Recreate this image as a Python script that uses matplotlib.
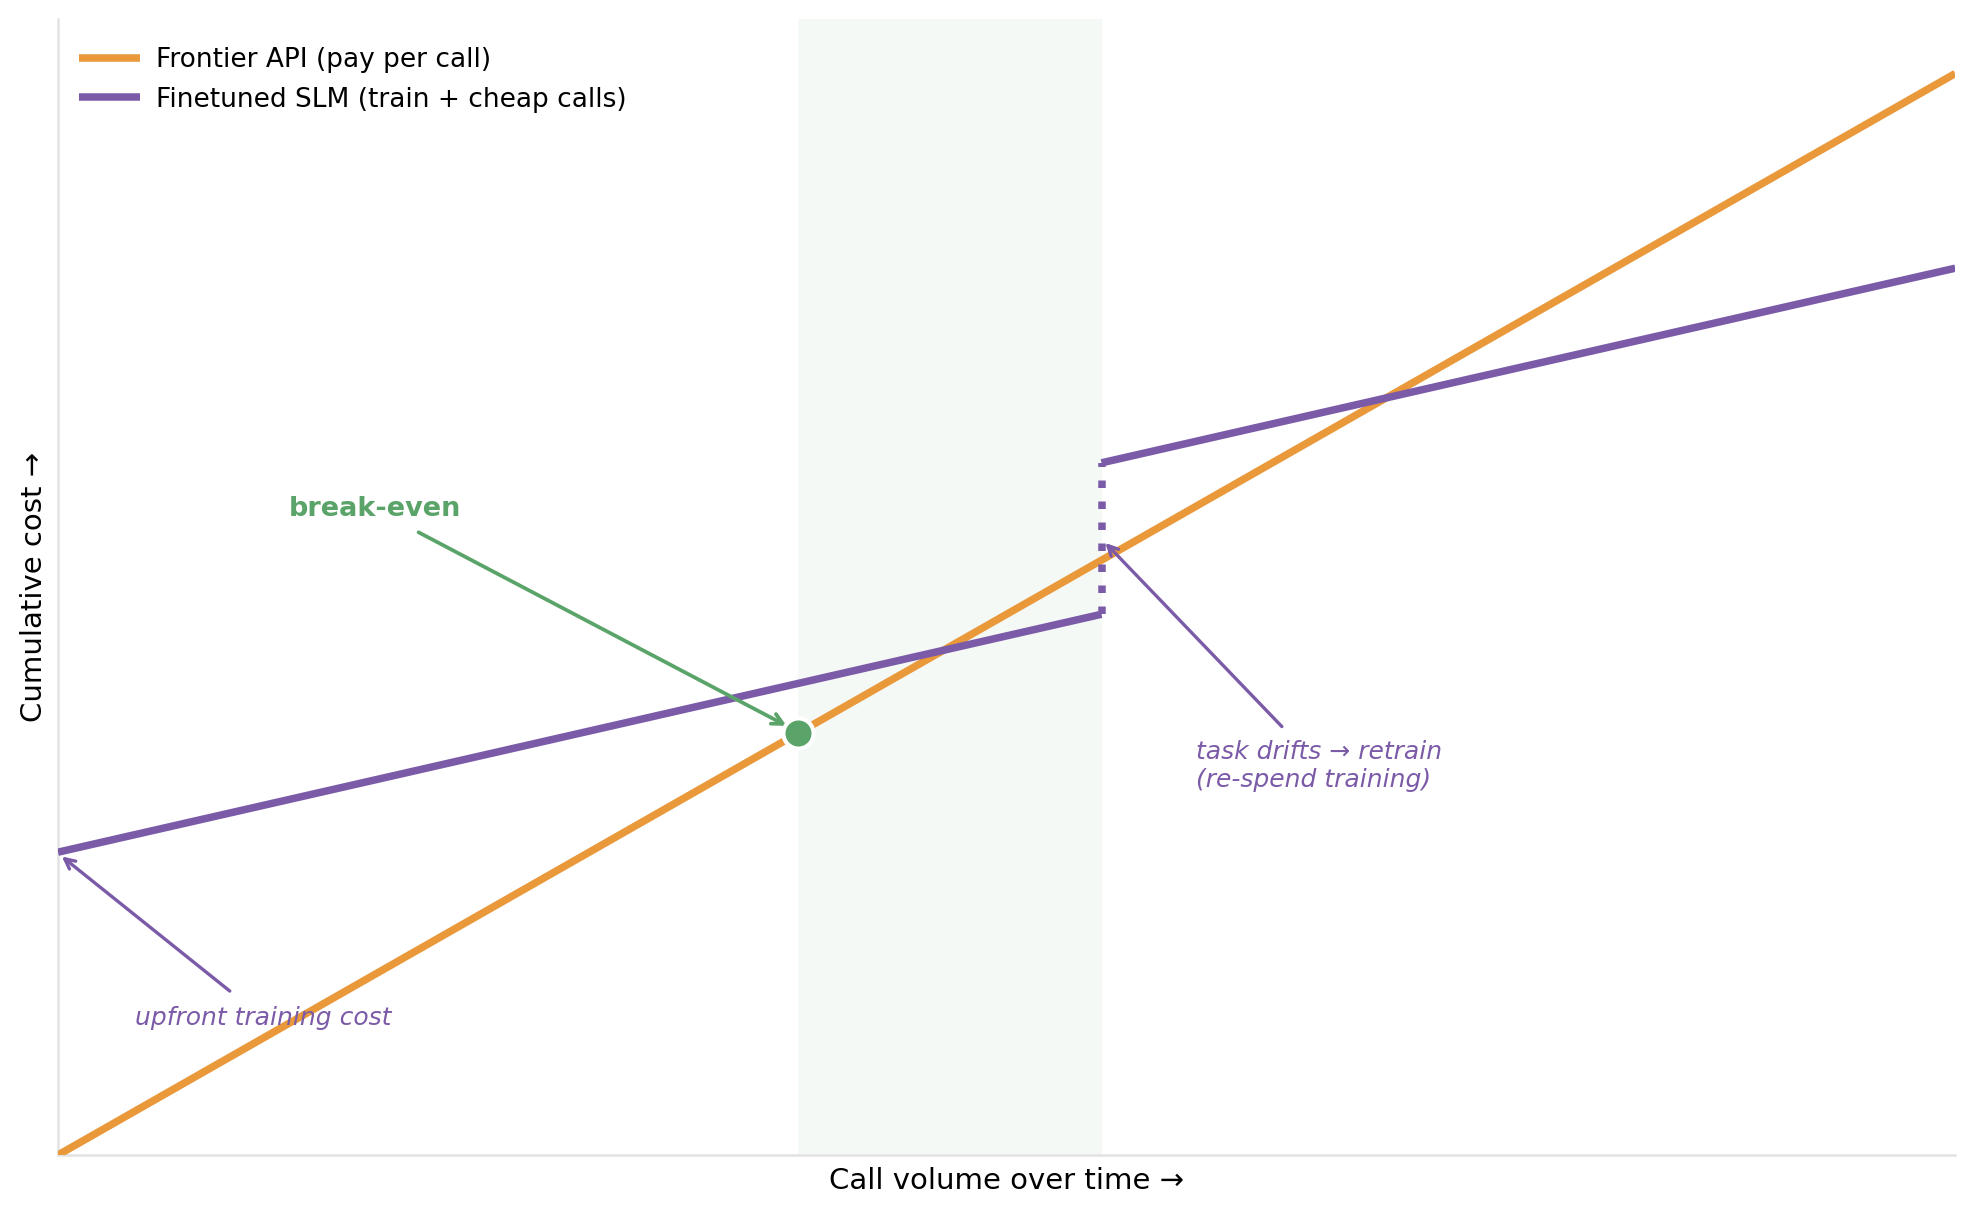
import matplotlib
matplotlib.use("Agg")
import matplotlib.pyplot as plt
import numpy as np

# ---- data ----
volume = [0, 100]                 # call volume (arbitrary units)
api_cost = [0, 100]               # frontier API cumulative cost
slm_phase1_x = [0, 55]
slm_phase1_y = [28, 50]
slm_phase2_x = [55, 100]
slm_phase2_y = [64, 82]
retrain_x = 55
breakeven_x = 39
breakeven_y = 39
shade_span = [39, 55]
y_max = 105

ORANGE = "#E9983A"
PURPLE = "#7B5BA8"
GREEN = "#5AA469"

fig = plt.figure(figsize=(1975 / 150, 1215 / 150), dpi=150)
ax = fig.add_axes([0.0294, 0.0494, 0.9606, 0.9346])

ax.axvspan(shade_span[0], shade_span[1], color=GREEN, alpha=0.06, lw=0, zorder=0)

ax.plot(volume, api_cost, color=ORANGE, lw=3.6, label="Frontier API (pay per call)", zorder=3,
        solid_capstyle="butt")
ax.plot(slm_phase1_x, slm_phase1_y, color=PURPLE, lw=3.6,
        label="Finetuned SLM (train + cheap calls)", zorder=3, solid_capstyle="butt")
ax.plot(slm_phase2_x, slm_phase2_y, color=PURPLE, lw=3.6, zorder=3, solid_capstyle="butt")
ax.plot([retrain_x, retrain_x], [slm_phase1_y[1], slm_phase2_y[0]], color=PURPLE, lw=3.6,
        ls=(0, (1, 1.8)), zorder=3)

ax.plot([breakeven_x], [breakeven_y], "o", color=GREEN, ms=14.5, mec="white", mew=2, zorder=5)

ax.annotate("break-even", xy=(breakeven_x - 0.4, breakeven_y + 0.5), xytext=(16.7, 59.7),
            color=GREEN, fontsize=13, fontweight="bold", ha="center", va="center",
            arrowprops=dict(arrowstyle="->", color=GREEN, lw=1.8, shrinkA=6, shrinkB=2))

ax.annotate("upfront training cost", xy=(0.2, 27.6), xytext=(10.8, 12.7),
            color=PURPLE, fontsize=12, fontstyle="italic", ha="center", va="center",
            arrowprops=dict(arrowstyle="->", color=PURPLE, lw=1.6, shrinkA=8, shrinkB=0))

ax.annotate("task drifts \u2192 retrain\n(re-spend training)", xy=(55.2, 56.6), xytext=(60.0, 36.0),
            color=PURPLE, fontsize=12, fontstyle="italic", ha="left", va="center",
            arrowprops=dict(arrowstyle="->", color=PURPLE, lw=1.6, shrinkA=6, shrinkB=0))

ax.set_xlim(0, 100)
ax.set_ylim(0, y_max)
ax.set_xticks([])
ax.set_yticks([])
for s in ["top", "right"]:
    ax.spines[s].set_visible(False)
for s in ["left", "bottom"]:
    ax.spines[s].set_color("#E3E3E3")
    ax.spines[s].set_linewidth(1.2)

ax.set_xlabel("Call volume over time \u2192", fontsize=14, labelpad=6)
ax.set_ylabel("Cumulative cost \u2192", fontsize=14, labelpad=5)

leg = ax.legend(loc="upper left", frameon=False, fontsize=12.7, handlelength=2.3,
                handletextpad=0.6, bbox_to_anchor=(0.0, 0.994), borderaxespad=0.4)

fig.savefig("out.png", dpi=150)
